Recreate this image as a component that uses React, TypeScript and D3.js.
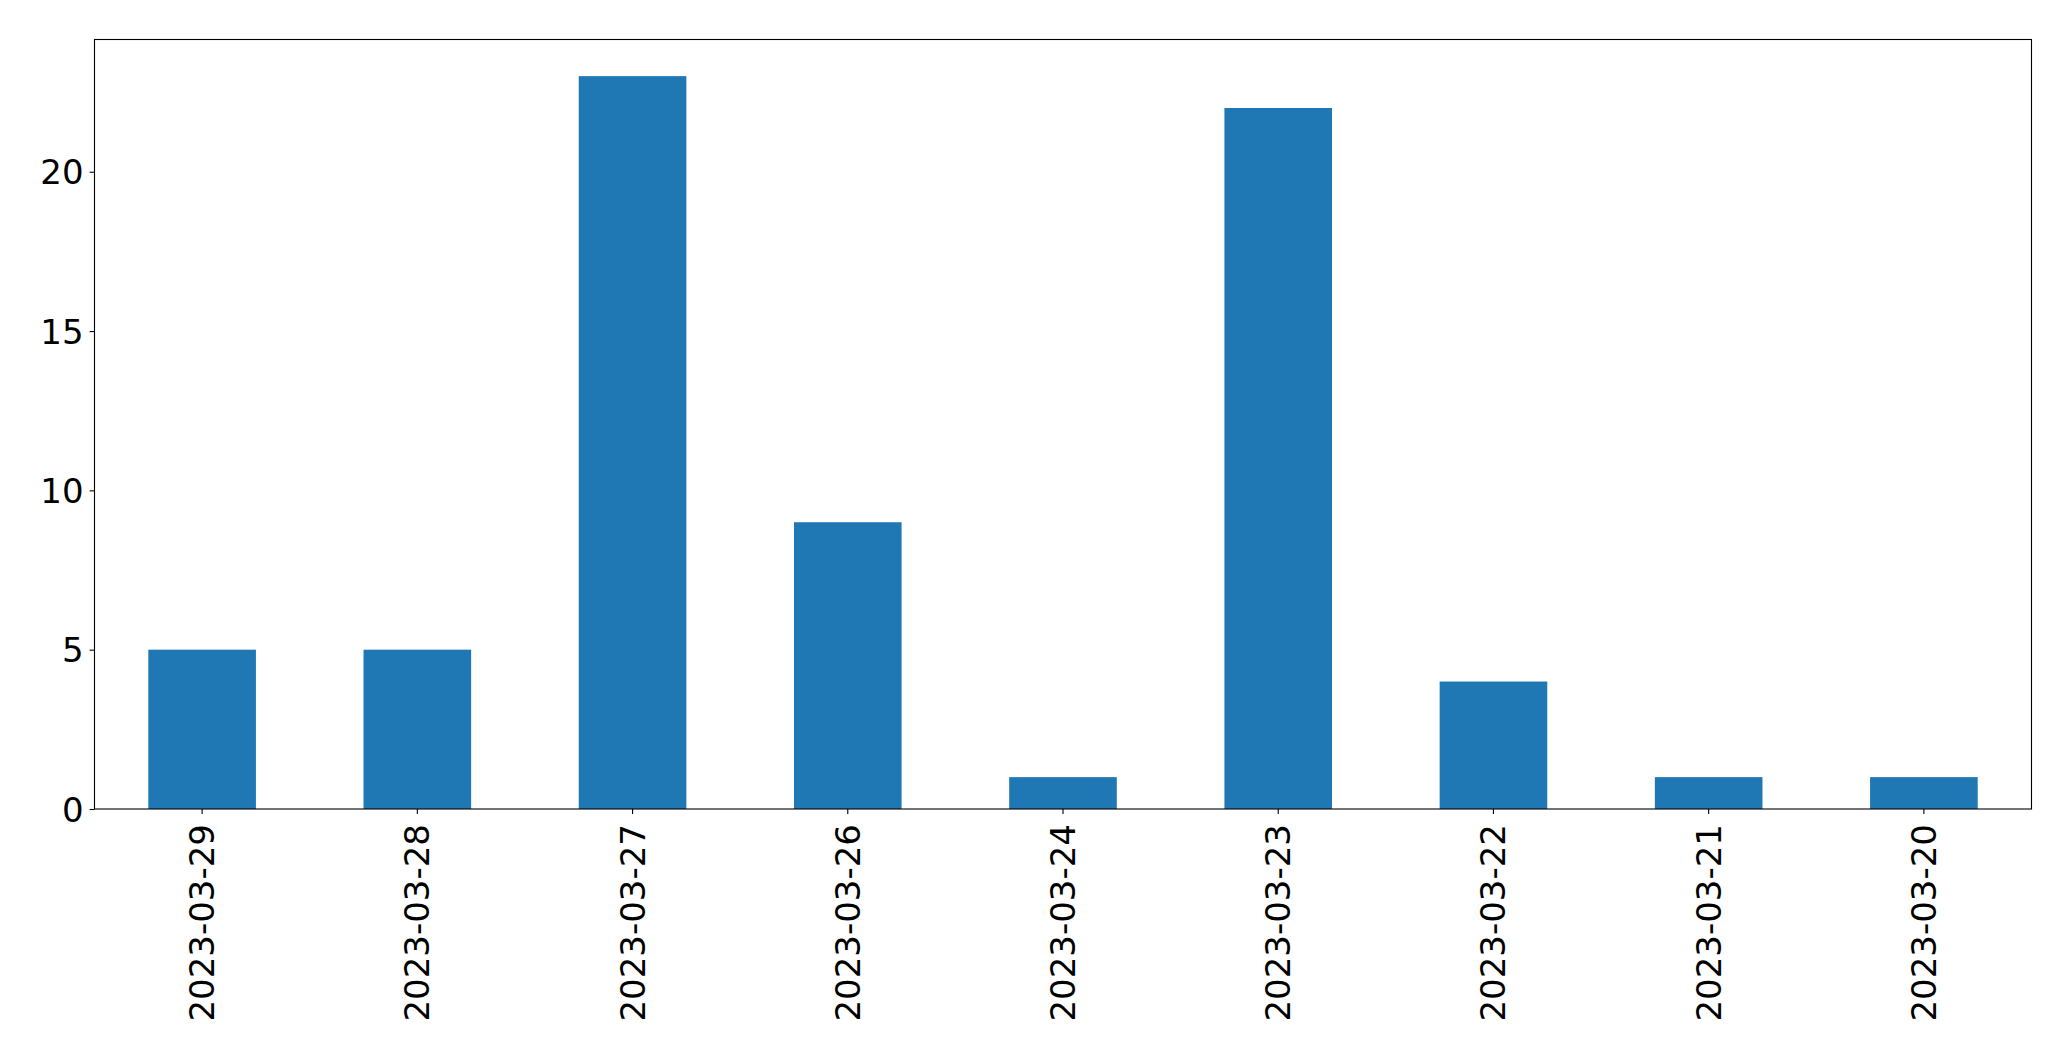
import React, { useEffect, useRef } from 'react';
import * as d3 from 'd3';

const dates = [
    '2023-03-29', '2023-03-28', '2023-03-27', '2023-03-26', '2023-03-24',
    '2023-03-23', '2023-03-22', '2023-03-21', '2023-03-20',
];
const counts = [5, 5, 23, 9, 1, 22, 4, 1, 1];
const yTicks = [0, 5, 10, 15, 20];

const WIDTH = 2071;
const HEIGHT = 1061;
const margin = { top: 39.5, right: 39.5, bottom: 252, left: 94.5 };
const FONT = '"DejaVu Sans", sans-serif';
const FONT_SIZE = 34;

export default function App() {
    const ref = useRef<SVGSVGElement>(null);

    useEffect(() => {
        if (!ref.current) return;
        const svg = d3.select(ref.current);
        svg.selectAll('*').remove();

        const innerW = WIDTH - margin.left - margin.right;
        const innerH = HEIGHT - margin.top - margin.bottom;

        // band scale with 0.5 bar width, like pandas bar plot
        const x = d3.scaleBand<string>()
            .domain(dates)
            .range([0, innerW])
            .paddingInner(0.5)
            .paddingOuter(0.25);
        const y = d3.scaleLinear()
            .domain([0, d3.max(counts)! * 1.05])
            .range([innerH, 0]);

        const g = svg.append('g')
            .attr('transform', `translate(${margin.left},${margin.top})`);

        g.selectAll('rect.bar')
            .data(counts)
            .enter()
            .append('rect')
            .attr('class', 'bar')
            .attr('x', (_, i) => x(dates[i])!)
            .attr('width', x.bandwidth())
            .attr('y', d => y(d))
            .attr('height', d => innerH - y(d))
            .attr('fill', '#1f77b4');

        // frame
        g.append('rect')
            .attr('width', innerW)
            .attr('height', innerH)
            .attr('fill', 'none')
            .attr('stroke', '#000')
            .attr('stroke-width', 1.1);

        const xAxis = g.append('g')
            .attr('transform', `translate(0,${innerH})`)
            .call(d3.axisBottom(x).tickSize(4.9).tickPadding(4.9).tickSizeOuter(0));
        xAxis.select('.domain').remove();
        xAxis.selectAll('line').attr('stroke', '#000').attr('stroke-width', 1.1);
        xAxis.selectAll('text')
            .attr('font-family', FONT)
            .attr('font-size', FONT_SIZE)
            .attr('fill', '#000')
            .attr('text-anchor', 'end')
            .attr('dy', null)
            .attr('dominant-baseline', 'central')
            .attr('transform', 'translate(0,15) rotate(-90)')
            .attr('y', 0)
            .attr('x', 0);

        const yAxis = g.append('g')
            .call(d3.axisLeft(y).tickValues(yTicks).tickFormat(d3.format('d')).tickSize(4.9).tickPadding(6));
        yAxis.select('.domain').remove();
        yAxis.selectAll('line').attr('stroke', '#000').attr('stroke-width', 1.1);
        yAxis.selectAll('text')
            .attr('font-family', FONT)
            .attr('font-size', FONT_SIZE)
            .attr('fill', '#000')
            .attr('dy', null)
            .attr('dominant-baseline', 'central');
    }, []);

    return (
        <svg
            ref={ref}
            width={WIDTH}
            height={HEIGHT}
            style={{ position: 'absolute', left: 0, top: 0, background: '#fff' }}
        />
    );
}
